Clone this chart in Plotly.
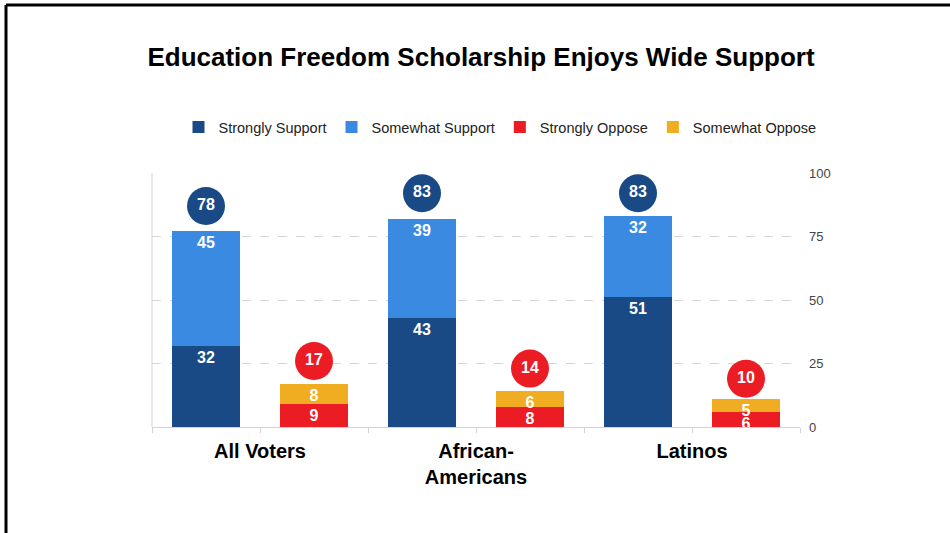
import plotly.graph_objects as go

categories = ["All Voters", "African-<br>Americans", "Latinos"]
strongly_support = [32, 43, 51]
somewhat_support = [45, 39, 32]
strongly_oppose = [9, 8, 6]
somewhat_oppose = [8, 6, 5]
support_total = [78, 83, 83]
oppose_total = [17, 14, 10]

NAVY = "#1A4A86"
BLUE = "#3A8AE2"
RED = "#EC1C24"
ORANGE = "#F0AD22"
FONT = "Liberation Sans, Arial, sans-serif"

idx = list(range(len(categories)))
x_sup = [i - 0.25 for i in idx]
x_opp = [i + 0.25 for i in idx]
BW = 0.315

fig = go.Figure()

def bar(name, x, y, color):
    fig.add_trace(go.Bar(
        name=name, x=x, y=y, width=BW, marker=dict(color=color, line=dict(width=0)),
        text=[str(v) for v in y], textposition="inside", insidetextanchor="end",
        textfont=dict(color="white", size=16, family=FONT, weight="bold"),
        textangle=0, hoverinfo="skip",
    ))

bar("Strongly Support", x_sup, strongly_support, NAVY)
bar("Somewhat Support", x_sup, somewhat_support, BLUE)
bar("Strongly Oppose", x_opp, strongly_oppose, RED)
bar("Somewhat Oppose", x_opp, somewhat_oppose, ORANGE)

fig.add_trace(go.Scatter(
    x=x_sup, y=[v + 9 for v in support_total], mode="markers+text",
    marker=dict(size=38, color=NAVY), text=[str(v) for v in support_total],
    textposition="middle center",
    textfont=dict(color="white", size=16, family=FONT, weight="bold"),
    showlegend=False, hoverinfo="skip", cliponaxis=False,
))
fig.add_trace(go.Scatter(
    x=x_opp, y=[v + 9 for v in oppose_total], mode="markers+text",
    marker=dict(size=38, color=RED), text=[str(v) for v in oppose_total],
    textposition="middle center",
    textfont=dict(color="white", size=16, family=FONT, weight="bold"),
    showlegend=False, hoverinfo="skip", cliponaxis=False,
))

W, H = 950, 533
L, R, T, B = 152, 150, 173, 106
pw, ph = W - L - R, H - T - B

def px_x(p):
    return (p - L) / pw

def px_y(p):
    return (H - B - p) / ph

fig.update_layout(
    width=W, height=H, barmode="stack",
    margin=dict(l=L, r=R, t=T, b=B, autoexpand=False),
    paper_bgcolor="white", plot_bgcolor="white",
    font=dict(family=FONT, color="#222222"),
    title=dict(text="<b>Education Freedom Scholarship Enjoys Wide Support</b>",
               x=481 / W, xanchor="center", y=1 - 57 / H, yanchor="middle",
               font=dict(size=26, color="black", family=FONT)),
    legend=dict(orientation="h", x=px_x(500), xanchor="center", y=px_y(127), yanchor="middle",
                font=dict(size=14.5, color="#222222", family=FONT), itemwidth=30,
                traceorder="normal", bgcolor="rgba(0,0,0,0)"),
    uniformtext=dict(mode="show", minsize=16),
    xaxis=dict(range=[-0.5, 2.5], tickvals=idx, ticktext=categories,
               tickfont=dict(size=20, color="black", family=FONT, weight="bold"),
               ticks="", showgrid=False, zeroline=False, ticklabelstandoff=6,
               showline=True, linecolor="#D3D3D3", linewidth=1,
               minor=dict(dtick=0.5, tick0=-0.5, ticks="outside", ticklen=5,
                          tickcolor="#D3D3D3", showgrid=False),
               fixedrange=True),
    yaxis=dict(range=[0, 100], side="right", tickvals=[0, 25, 50, 75, 100],
               tickfont=dict(size=13, color="#444444", family=FONT),
               showgrid=True, gridcolor="#D6D6D6", griddash="dash", gridwidth=1,
               zeroline=False, showline=False, ticks="", ticklabelstandoff=8,
               fixedrange=True),
    shapes=[
        dict(type="line", xref="paper", yref="paper", x0=0, x1=0, y0=0, y1=1,
             line=dict(color="#D3D3D3", width=1)),
        dict(type="line", xref="paper", yref="paper", x0=px_x(6), x1=px_x(951),
             y0=px_y(5), y1=px_y(5), line=dict(color="black", width=3)),
        dict(type="line", xref="paper", yref="paper", x0=px_x(6), x1=px_x(6),
             y0=px_y(5), y1=px_y(534), line=dict(color="black", width=3)),
    ],
)

fig.write_html("out.html")
